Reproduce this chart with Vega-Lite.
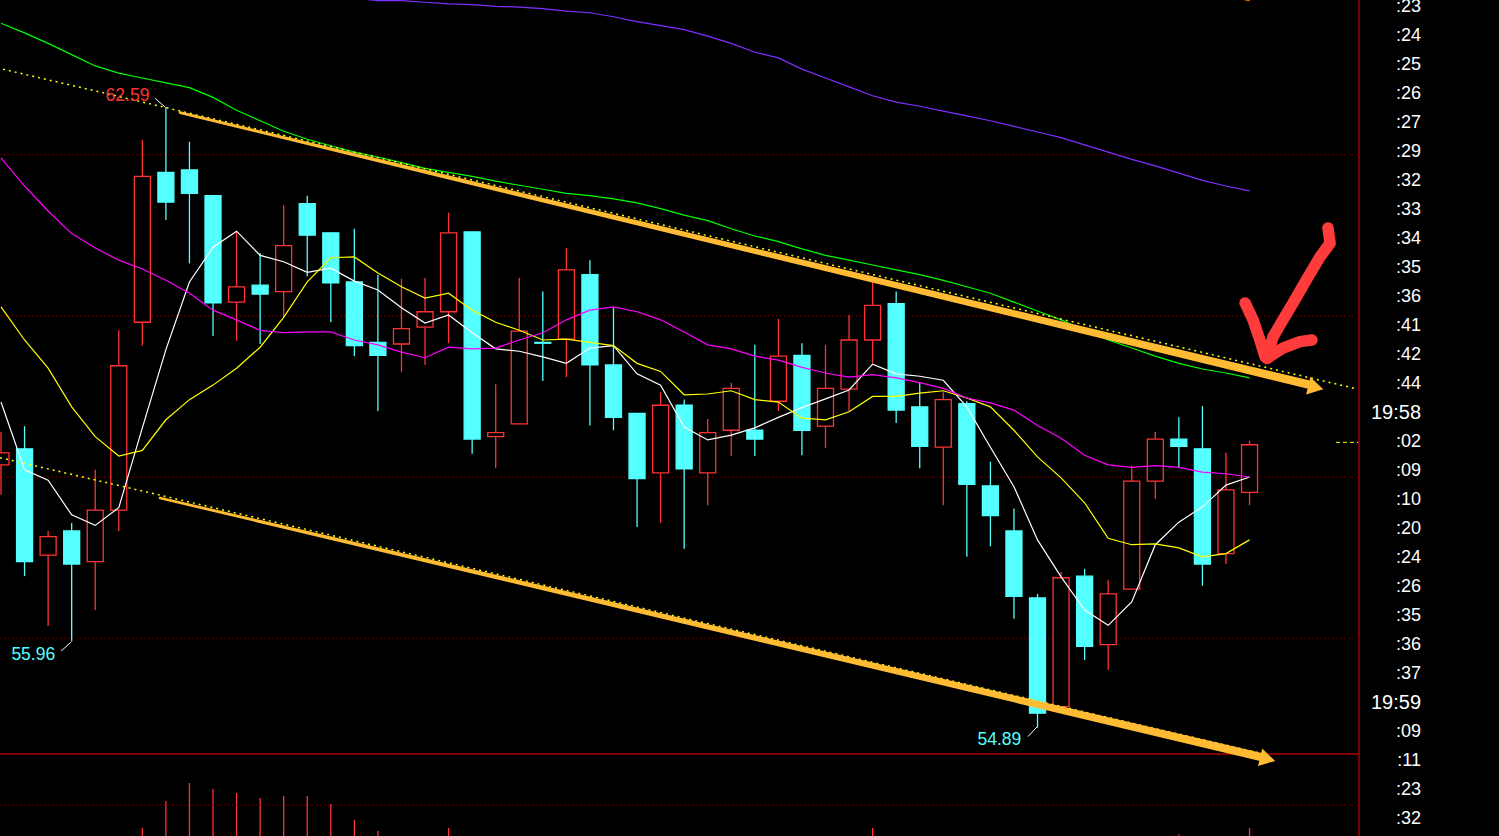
{
  "$schema": "https://vega.github.io/schema/vega-lite/v6.json",
  "width": 1499,
  "height": 836,
  "autosize": {"type": "none"},
  "padding": 0,
  "background": "#000000",
  "config": {"view": {"stroke": null}, "scale": {"continuousPadding": 0}},
  "datasets": {
    "k": [
      {"i":0,"o":58.15,"h":58.56,"l":57.78,"c":58.30,"m5":58.93,"m10":60.11,"m20":61.96,"m60":63.63},
      {"i":1,"o":58.35,"h":58.63,"l":56.77,"c":56.95,"m5":58.09,"m10":59.70,"m20":61.61,"m60":63.51},
      {"i":2,"o":57.03,"h":57.33,"l":56.15,"c":57.26,"m5":57.96,"m10":59.35,"m20":61.30,"m60":63.38},
      {"i":3,"o":57.33,"h":57.43,"l":55.96,"c":56.92,"m5":57.53,"m10":58.87,"m20":61.02,"m60":63.24},
      {"i":4,"o":56.95,"h":58.09,"l":56.35,"c":57.59,"m5":57.40,"m10":58.50,"m20":60.84,"m60":63.10},
      {"i":5,"o":57.59,"h":59.82,"l":57.33,"c":59.38,"m5":57.62,"m10":58.26,"m20":60.69,"m60":63.01},
      {"i":6,"o":59.92,"h":62.18,"l":59.63,"c":61.73,"m5":58.61,"m10":58.33,"m20":60.58,"m60":62.95},
      {"i":7,"o":61.78,"h":62.59,"l":61.19,"c":61.41,"m5":59.58,"m10":58.71,"m20":60.44,"m60":62.89},
      {"i":8,"o":61.81,"h":62.16,"l":60.65,"c":61.52,"m5":60.42,"m10":58.96,"m20":60.28,"m60":62.83},
      {"i":9,"o":61.49,"h":61.49,"l":59.75,"c":60.16,"m5":60.85,"m10":59.14,"m20":60.07,"m60":62.71},
      {"i":10,"o":60.17,"h":61.04,"l":59.69,"c":60.36,"m5":61.05,"m10":59.35,"m20":59.95,"m60":62.55},
      {"i":11,"o":60.38,"h":60.78,"l":59.65,"c":60.27,"m5":60.75,"m10":59.61,"m20":59.82,"m60":62.42},
      {"i":12,"o":60.30,"h":61.37,"l":59.98,"c":60.87,"m5":60.67,"m10":59.98,"m20":59.79,"m60":62.29,"m120":64.02},
      {"i":13,"o":61.39,"h":61.49,"l":60.49,"c":61.00,"m5":60.54,"m10":60.42,"m20":59.80,"m60":62.19,"m120":63.99},
      {"i":14,"o":61.03,"h":61.03,"l":59.92,"c":60.41,"m5":60.59,"m10":60.72,"m20":59.80,"m60":62.11,"m120":63.96},
      {"i":15,"o":60.42,"h":61.08,"l":59.50,"c":59.63,"m5":60.43,"m10":60.73,"m20":59.70,"m60":62.03,"m120":63.94},
      {"i":16,"o":59.67,"h":60.51,"l":58.82,"c":59.51,"m5":60.32,"m10":60.53,"m20":59.64,"m60":61.97,"m120":63.91},
      {"i":17,"o":59.65,"h":60.46,"l":59.30,"c":59.84,"m5":60.10,"m10":60.36,"m20":59.55,"m60":61.90,"m120":63.91},
      {"i":18,"o":59.86,"h":60.47,"l":59.39,"c":60.05,"m5":59.91,"m10":60.22,"m20":59.48,"m60":61.83,"m120":63.89},
      {"i":19,"o":60.05,"h":61.28,"l":59.66,"c":61.03,"m5":60.01,"m10":60.28,"m20":59.61,"m60":61.78,"m120":63.87},
      {"i":20,"o":61.04,"h":61.05,"l":58.29,"c":58.47,"m5":59.79,"m10":60.07,"m20":59.59,"m60":61.73,"m120":63.86},
      {"i":21,"o":58.50,"h":59.15,"l":58.11,"c":58.55,"m5":59.59,"m10":59.92,"m20":59.60,"m60":61.67,"m120":63.84},
      {"i":22,"o":58.66,"h":60.47,"l":58.66,"c":59.81,"m5":59.56,"m10":59.82,"m20":59.70,"m60":61.62,"m120":63.83},
      {"i":23,"o":59.67,"h":60.30,"l":59.19,"c":59.66,"m5":59.49,"m10":59.70,"m20":59.79,"m60":61.57,"m120":63.81},
      {"i":24,"o":59.71,"h":60.84,"l":59.24,"c":60.57,"m5":59.41,"m10":59.71,"m20":59.95,"m60":61.52,"m120":63.78},
      {"i":25,"o":60.51,"h":60.69,"l":58.64,"c":59.39,"m5":59.60,"m10":59.67,"m20":60.07,"m60":61.49,"m120":63.76},
      {"i":26,"o":59.39,"h":60.10,"l":58.58,"c":58.74,"m5":59.63,"m10":59.63,"m20":60.11,"m60":61.45,"m120":63.71},
      {"i":27,"o":58.79,"h":58.79,"l":57.38,"c":57.98,"m5":59.28,"m10":59.41,"m20":60.05,"m60":61.40,"m120":63.65},
      {"i":28,"o":58.05,"h":59.05,"l":57.43,"c":58.89,"m5":59.14,"m10":59.31,"m20":59.95,"m60":61.33,"m120":63.60},
      {"i":29,"o":58.89,"h":58.96,"l":57.11,"c":58.10,"m5":58.62,"m10":59.02,"m20":59.80,"m60":61.25,"m120":63.55},
      {"i":30,"o":58.05,"h":58.72,"l":57.65,"c":58.55,"m5":58.46,"m10":59.03,"m20":59.64,"m60":61.18,"m120":63.47},
      {"i":31,"o":58.58,"h":59.17,"l":58.26,"c":59.10,"m5":58.52,"m10":59.07,"m20":59.59,"m60":61.08,"m120":63.38},
      {"i":32,"o":58.58,"h":59.64,"l":58.26,"c":58.47,"m5":58.61,"m10":58.96,"m20":59.50,"m60":60.99,"m120":63.27},
      {"i":33,"o":58.94,"h":59.96,"l":58.82,"c":59.50,"m5":58.74,"m10":58.93,"m20":59.45,"m60":60.92,"m120":63.20},
      {"i":34,"o":59.51,"h":59.66,"l":58.27,"c":58.58,"m5":58.86,"m10":58.73,"m20":59.36,"m60":60.83,"m120":63.06},
      {"i":35,"o":58.63,"h":59.64,"l":58.36,"c":59.10,"m5":58.97,"m10":58.71,"m20":59.29,"m60":60.75,"m120":62.95},
      {"i":36,"o":59.09,"h":60.01,"l":58.81,"c":59.70,"m5":59.08,"m10":58.81,"m20":59.24,"m60":60.69,"m120":62.84},
      {"i":37,"o":59.70,"h":60.49,"l":59.41,"c":60.13,"m5":59.40,"m10":59.00,"m20":59.27,"m60":60.63,"m120":62.73},
      {"i":38,"o":60.15,"h":60.30,"l":58.67,"c":58.83,"m5":59.28,"m10":59.00,"m20":59.23,"m60":60.57,"m120":62.65},
      {"i":39,"o":58.87,"h":59.17,"l":58.11,"c":58.38,"m5":59.25,"m10":59.04,"m20":59.17,"m60":60.51,"m120":62.60},
      {"i":40,"o":58.37,"h":59.05,"l":57.65,"c":58.96,"m5":59.20,"m10":59.07,"m20":59.10,"m60":60.44,"m120":62.54},
      {"i":41,"o":58.91,"h":58.94,"l":57.01,"c":57.91,"m5":58.87,"m10":58.98,"m20":58.98,"m60":60.36,"m120":62.48},
      {"i":42,"o":57.89,"h":58.19,"l":57.14,"c":57.52,"m5":58.37,"m10":58.87,"m20":58.92,"m60":60.28,"m120":62.42},
      {"i":43,"o":57.33,"h":57.61,"l":56.24,"c":56.52,"m5":57.88,"m10":58.58,"m20":58.83,"m60":60.17,"m120":62.35},
      {"i":44,"o":56.50,"h":56.55,"l":54.89,"c":55.07,"m5":57.22,"m10":58.25,"m20":58.64,"m60":60.06,"m120":62.28},
      {"i":45,"o":55.15,"h":56.82,"l":55.15,"c":56.75,"m5":56.76,"m10":57.99,"m20":58.48,"m60":59.95,"m120":62.21},
      {"i":46,"o":56.77,"h":56.86,"l":55.73,"c":55.90,"m5":56.35,"m10":57.68,"m20":58.27,"m60":59.82,"m120":62.12},
      {"i":47,"o":55.92,"h":56.72,"l":55.61,"c":56.55,"m5":56.16,"m10":57.24,"m20":58.15,"m60":59.70,"m120":62.03},
      {"i":48,"o":56.61,"h":58.14,"l":56.61,"c":57.95,"m5":56.45,"m10":57.16,"m20":58.12,"m60":59.60,"m120":61.94},
      {"i":49,"o":57.95,"h":58.56,"l":57.73,"c":58.47,"m5":57.16,"m10":57.17,"m20":58.14,"m60":59.50,"m120":61.86},
      {"i":50,"o":58.47,"h":58.74,"l":58.12,"c":58.38,"m5":57.44,"m10":57.12,"m20":58.12,"m60":59.41,"m120":61.77},
      {"i":51,"o":58.35,"h":58.88,"l":56.65,"c":56.92,"m5":57.63,"m10":57.01,"m20":58.06,"m60":59.34,"m120":61.68},
      {"i":52,"o":57.05,"h":58.30,"l":56.92,"c":57.84,"m5":57.90,"m10":57.05,"m20":58.04,"m60":59.29,"m120":61.61,"m250":63.97},
      {"i":53,"o":57.81,"h":58.45,"l":57.65,"c":58.40,"m5":58.00,"m10":57.22,"m20":58.00,"m60":59.23,"m120":61.55,"m250":63.91}
    ],
    "vol": [
      {"i":6,"v":80},{"i":7,"v":350},{"i":8,"v":530},{"i":9,"v":470},{"i":10,"v":430},
      {"i":11,"v":380},{"i":12,"v":400},{"i":13,"v":400},{"i":14,"v":320},{"i":15,"v":160},
      {"i":16,"v":50},{"i":19,"v":80},{"i":37,"v":80},{"i":50,"v":15},{"i":53,"v":80}
    ],
    "tr": [
      {"k":"u","i":0.085,"p":63.06},{"k":"u","i":57.60,"p":59.09},
      {"k":"d","i":-0.04,"p":58.24},{"k":"d","i":53.66,"p":54.56}
    ],
    "ar": [
      {"k":"a","i":7.60,"p":62.52},{"k":"a","i":55.48,"p":59.15},
      {"k":"b","i":6.75,"p":57.74},{"k":"b","i":53.44,"p":54.53}
    ],
    "ah": [{"i":55.81,"p":59.11},{"i":53.77,"p":54.50}],
    "ra": [
      {"k":"s","o":0,"i":56.33,"p":61.09},{"k":"s","o":1,"i":56.42,"p":60.90},{"k":"s","o":2,"i":55.99,"p":60.73},
      {"k":"s","o":3,"i":55.48,"p":60.48},{"k":"s","o":4,"i":54.85,"p":60.16},{"k":"s","o":5,"i":54.42,"p":59.95},
      {"k":"s","o":6,"i":54.00,"p":59.74},{"k":"s","o":7,"i":53.74,"p":59.47},
      {"k":"l","o":0,"i":52.81,"p":60.16},{"k":"l","o":1,"i":53.15,"p":59.95},{"k":"l","o":2,"i":53.44,"p":59.70},{"k":"l","o":3,"i":53.66,"p":59.49},
      {"k":"r","o":0,"i":53.79,"p":59.48},{"k":"r","o":1,"i":54.42,"p":59.60},{"k":"r","o":2,"i":55.14,"p":59.68},{"k":"r","o":3,"i":55.65,"p":59.70}
    ],
    "pt": [
      {"i":6.54,"p":62.70,"i2":6.96,"p2":62.59},
      {"i":2.55,"p":55.84,"i2":2.97,"p2":55.95},
      {"i":43.60,"p":54.78,"i2":43.98,"p2":54.90}
    ],
    "lb": [
      {"t":"62.59","i":5.37,"p":62.73},
      {"t":"55.96","i":1.37,"p":55.79},
      {"t":"54.89","i":42.38,"p":54.74}
    ],
    "tm": [
      {"r":0,"t":":23"},{"r":1,"t":":24"},{"r":2,"t":":25"},{"r":3,"t":":26"},{"r":4,"t":":27"},
      {"r":5,"t":":29"},{"r":6,"t":":32"},{"r":7,"t":":33"},{"r":8,"t":":34"},{"r":9,"t":":35"},
      {"r":10,"t":":36"},{"r":11,"t":":41"},{"r":12,"t":":42"},{"r":13,"t":":44"},{"r":14,"t":"19:58"},
      {"r":15,"t":":02"},{"r":16,"t":":09"},{"r":17,"t":":10"},{"r":18,"t":":20"},{"r":19,"t":":24"},
      {"r":20,"t":":26"},{"r":21,"t":":35"},{"r":22,"t":":36"},{"r":23,"t":":37"},{"r":24,"t":"19:59"},
      {"r":25,"t":":09"},{"r":26,"t":":11"},{"r":27,"t":":23"},{"r":28,"t":":32"}
    ]
  },
  "layer": [
    {
      "layer": [
        {
          "data": {"values": [{"p":62},{"p":60},{"p":58},{"p":56}]},
          "mark": {"type": "rule", "color": "#8a0000", "strokeDash": [1, 3], "strokeWidth": 1},
          "encoding": {
            "y": {"field": "p", "type": "quantitative", "scale": {"domain": [53.546, 63.918], "nice": false, "zero": false}, "axis": null},
            "x": {"datum": -0.04, "type": "quantitative", "scale": {"domain": [-0.0424, 63.59], "nice": false, "zero": false, "padding": 0}, "axis": null},
            "x2": {"datum": 57.52}
          }
        },
        {
          "data": {"values": [{"p": 54.563}]},
          "mark": {"type": "rule", "color": "#b00000", "strokeWidth": 1.5},
          "encoding": {
            "y": {"field": "p", "type": "quantitative", "scale": {"domain": [53.546, 63.918], "nice": false, "zero": false}, "axis": null},
            "x": {"datum": -0.0424, "type": "quantitative", "scale": {"domain": [-0.0424, 63.59], "nice": false, "zero": false, "padding": 0}, "axis": null},
            "x2": {"datum": 57.647}
          }
        },
        {
          "data": {"values": [{"i": 57.647}]},
          "mark": {"type": "rule", "color": "#a00000", "strokeWidth": 1.5},
          "encoding": {
            "x": {"field": "i", "type": "quantitative", "scale": {"domain": [-0.0424, 63.59], "nice": false, "zero": false, "padding": 0}, "axis": null}
          }
        },
        {
          "data": {"name": "k"},
          "mark": {"type": "rule", "strokeWidth": 1.3, "clip": true},
          "encoding": {
            "x": {"field": "i", "type": "quantitative", "scale": {"domain": [-0.0424, 63.59], "nice": false, "zero": false, "padding": 0}, "axis": null},
            "y": {"field": "l", "type": "quantitative", "scale": {"domain": [53.546, 63.918], "nice": false, "zero": false}, "axis": null},
            "y2": {"field": "h"},
            "color": {"condition": {"test": "datum.c >= datum.o", "value": "#ff3333"}, "value": "#54ffff"}
          }
        },
        {
          "data": {"name": "k"},
          "mark": {"type": "bar", "orient": "vertical", "width": 16, "strokeWidth": 1.3, "clip": true},
          "encoding": {
            "x": {"field": "i", "type": "quantitative", "scale": {"domain": [-0.0424, 63.59], "nice": false, "zero": false, "padding": 0}, "axis": null},
            "y": {"field": "o", "type": "quantitative", "scale": {"domain": [53.546, 63.918], "nice": false, "zero": false}, "axis": null},
            "y2": {"field": "c"},
            "fill": {"condition": {"test": "datum.c >= datum.o", "value": "#000000"}, "value": "#54ffff"},
            "stroke": {"condition": {"test": "datum.c >= datum.o", "value": "#ff3333"}, "value": "#54ffff"}
          }
        },
        {
          "data": {"name": "k"},
          "transform": [
            {"fold": ["m5", "m10", "m20", "m60", "m120", "m250"], "as": ["s", "v"]},
            {"filter": "isValid(datum.v)"}
          ],
          "mark": {"type": "line", "strokeWidth": 1.2, "clip": true},
          "encoding": {
            "x": {"field": "i", "type": "quantitative", "scale": {"domain": [-0.0424, 63.59], "nice": false, "zero": false, "padding": 0}, "axis": null},
            "y": {"field": "v", "type": "quantitative", "scale": {"domain": [53.546, 63.918], "nice": false, "zero": false}, "axis": null},
            "color": {"field": "s", "type": "nominal", "scale": {"domain": ["m5", "m10", "m20", "m60", "m120", "m250"], "range": ["#ffffff", "#ffff00", "#ff00ff", "#00ff00", "#7f2fff", "#ff7f00"]}, "legend": null}
          }
        },
        {
          "data": {"name": "tr"},
          "mark": {"type": "line", "color": "#ffff00", "strokeDash": [2, 4], "strokeWidth": 1.5, "clip": true},
          "encoding": {
            "x": {"field": "i", "type": "quantitative", "scale": {"domain": [-0.0424, 63.59], "nice": false, "zero": false, "padding": 0}, "axis": null},
            "y": {"field": "p", "type": "quantitative", "scale": {"domain": [53.546, 63.918], "nice": false, "zero": false}, "axis": null},
            "detail": {"field": "k"}
          }
        },
        {
          "data": {"values": [{"i": 56.67, "p": 58.43}, {"i": 57.61, "p": 58.43}]},
          "mark": {"type": "line", "color": "#ffff00", "strokeDash": [4, 3], "strokeWidth": 1},
          "encoding": {
            "x": {"field": "i", "type": "quantitative", "scale": {"domain": [-0.0424, 63.59], "nice": false, "zero": false, "padding": 0}, "axis": null},
            "y": {"field": "p", "type": "quantitative", "scale": {"domain": [53.546, 63.918], "nice": false, "zero": false}, "axis": null}
          }
        },
        {
          "data": {"name": "ar"},
          "mark": {"type": "trail", "color": "#ffbb33"},
          "encoding": {
            "x": {"field": "i", "type": "quantitative", "scale": {"domain": [-0.0424, 63.59], "nice": false, "zero": false, "padding": 0}, "axis": null},
            "y": {"field": "p", "type": "quantitative", "scale": {"domain": [53.546, 63.918], "nice": false, "zero": false}, "axis": null},
            "detail": {"field": "k"},
            "size": {"field": "i", "type": "quantitative", "scale": {"domain": [6, 56], "range": [2.5, 8.5], "zero": false}, "legend": null}
          }
        },
        {
          "data": {"name": "ah"},
          "mark": {"type": "point", "shape": "triangle-right", "filled": true, "color": "#ffbb33", "opacity": 1, "size": 320, "angle": 13.5},
          "encoding": {
            "x": {"field": "i", "type": "quantitative", "scale": {"domain": [-0.0424, 63.59], "nice": false, "zero": false, "padding": 0}, "axis": null},
            "y": {"field": "p", "type": "quantitative", "scale": {"domain": [53.546, 63.918], "nice": false, "zero": false}, "axis": null}
          }
        },
        {
          "data": {"name": "ra"},
          "mark": {"type": "line", "color": "#ff3b3b", "strokeWidth": 11.5, "strokeCap": "round", "strokeJoin": "round"},
          "encoding": {
            "x": {"field": "i", "type": "quantitative", "scale": {"domain": [-0.0424, 63.59], "nice": false, "zero": false, "padding": 0}, "axis": null},
            "y": {"field": "p", "type": "quantitative", "scale": {"domain": [53.546, 63.918], "nice": false, "zero": false}, "axis": null},
            "detail": {"field": "k"},
            "order": {"field": "o"}
          }
        },
        {
          "data": {"name": "pt"},
          "mark": {"type": "rule", "color": "#ffffff", "strokeWidth": 1},
          "encoding": {
            "x": {"field": "i", "type": "quantitative", "scale": {"domain": [-0.0424, 63.59], "nice": false, "zero": false, "padding": 0}, "axis": null},
            "y": {"field": "p", "type": "quantitative", "scale": {"domain": [53.546, 63.918], "nice": false, "zero": false}, "axis": null},
            "x2": {"field": "i2"},
            "y2": {"field": "p2"}
          }
        },
        {
          "data": {"name": "lb"},
          "mark": {"type": "text", "font": "Liberation Sans", "fontSize": 17.5, "align": "center", "baseline": "middle"},
          "encoding": {
            "x": {"field": "i", "type": "quantitative", "scale": {"domain": [-0.0424, 63.59], "nice": false, "zero": false, "padding": 0}, "axis": null},
            "y": {"field": "p", "type": "quantitative", "scale": {"domain": [53.546, 63.918], "nice": false, "zero": false}, "axis": null},
            "text": {"field": "t"},
            "color": {"condition": {"test": "datum.t == '62.59'", "value": "#ff3333"}, "value": "#54ffff"}
          }
        }
      ]
    },
    {
      "layer": [
        {
          "data": {"name": "vol"},
          "mark": {"type": "rule", "color": "#ff3333", "strokeWidth": 1.3},
          "encoding": {
            "x": {"field": "i", "type": "quantitative", "scale": {"domain": [-0.0424, 63.59], "nice": false, "zero": false, "padding": 0}, "axis": null},
            "y": {"field": "v", "type": "quantitative", "scale": {"domain": [0, 8360], "nice": false, "zero": false}, "axis": null},
            "y2": {"datum": 0}
          }
        },
        {
          "data": {"values": [{"v": 310}]},
          "mark": {"type": "rule", "color": "#8a0000", "strokeDash": [1, 3], "strokeWidth": 1},
          "encoding": {
            "y": {"field": "v", "type": "quantitative", "scale": {"domain": [0, 8360], "nice": false, "zero": false}, "axis": null},
            "x": {"datum": -0.04, "type": "quantitative", "scale": {"domain": [-0.0424, 63.59], "nice": false, "zero": false, "padding": 0}, "axis": null},
            "x2": {"datum": 57.52}
          }
        }
      ]
    },
    {
      "layer": [
        {
          "data": {"name": "tm"},
          "mark": {"type": "text", "font": "Liberation Sans", "align": "right", "baseline": "middle", "color": "#ffffff", "fontSize": {"expr": "length(datum.t) > 3 ? 20 : 18"}},
          "encoding": {
            "x": {"datum": 60.28, "type": "quantitative", "scale": {"domain": [-0.0424, 63.59], "nice": false, "zero": false, "padding": 0}, "axis": null},
            "y": {"field": "r", "type": "quantitative", "scale": {"domain": [28.586, -0.2414], "nice": false, "zero": false}, "axis": null},
            "text": {"field": "t", "type": "nominal"}
          }
        }
      ]
    }
  ],
  "resolve": {"scale": {"y": "independent"}}
}
